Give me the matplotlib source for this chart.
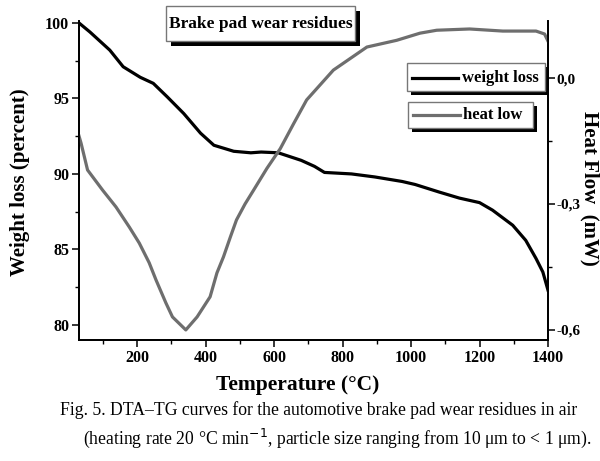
import matplotlib
matplotlib.use("Agg")
import matplotlib.pyplot as plt
from matplotlib.patches import Rectangle
from matplotlib.lines import Line2D
from matplotlib.ticker import MultipleLocator

# weight loss (TG) curve
temp_w = [30, 62, 120, 159, 209, 247, 288, 336, 385, 424, 482, 532, 562, 612,
          679, 718, 747, 826, 894, 974, 1012, 1082, 1141, 1200, 1238, 1297,
          1335, 1365, 1385, 1400]
weight = [100.0, 99.4, 98.2, 97.1, 96.4, 96.0, 95.1, 94.0, 92.7, 91.9, 91.5,
          91.4, 91.45, 91.4, 90.9, 90.5, 90.1, 90.0, 89.8, 89.5, 89.3, 88.8,
          88.4, 88.1, 87.6, 86.6, 85.6, 84.4, 83.5, 82.3]

# heat flow (DTA) curve
temp_h = [30, 36, 55, 99, 138, 177, 206, 235, 255, 284, 303, 342, 375, 413,
          433, 452, 472, 490, 515, 540, 579, 618, 656, 695, 773, 871, 958,
          1026, 1075, 1171, 1268, 1365, 1390, 1400]
heat = [-0.138, -0.155, -0.219, -0.267, -0.307, -0.355, -0.393, -0.44,
        -0.481, -0.536, -0.569, -0.60, -0.569, -0.521, -0.464, -0.426,
        -0.379, -0.338, -0.300, -0.267, -0.215, -0.168, -0.11, -0.052, 0.019,
        0.074, 0.09, 0.107, 0.114, 0.117, 0.112, 0.112, 0.105, 0.088]

x_ticks = [200, 400, 600, 800, 1000, 1200, 1400]
left_ticks = [80, 85, 90, 95, 100]
right_ticks = [0.0, -0.3, -0.6]
right_labels = ['0,0', '-0,3', '-0,6']

W, H = 600, 461
serif = ['Liberation Serif', 'DejaVu Serif']
plt.rcParams['font.family'] = serif


def fx(px):
    return px / W


def fy(py):
    return 1 - py / H


fig = plt.figure(figsize=(6, 4.61), dpi=100)
ax = fig.add_axes([fx(79), fy(340), fx(548) - fx(79), fy(21) - fy(340)])
ax2 = ax.twinx()

ax.plot(temp_w, weight, color='black', lw=2.3, zorder=3)
ax2.plot(temp_h, heat, color='#6e6e6e', lw=2.3)

ax.set_xlim(30, 1400)
ax.set_ylim(79.0, 100.13)
ax2.set_ylim(-0.624, 0.136)

ax.set_xticks(x_ticks)
ax.xaxis.set_minor_locator(MultipleLocator(100))
ax.set_yticks(left_ticks)
ax.yaxis.set_minor_locator(MultipleLocator(2.5))
ax2.set_yticks(right_ticks, labels=right_labels)
ax2.yaxis.set_minor_locator(MultipleLocator(0.15))

for a in (ax, ax2):
    a.spines['top'].set_visible(False)
    for s in a.spines.values():
        s.set_linewidth(1.3)
    a.tick_params(which='major', direction='out', length=5, width=1.1,
                  labelsize=11.5, pad=2)
    a.tick_params(which='minor', direction='out', length=3, width=1.0)
    for lab in a.get_xticklabels() + a.get_yticklabels():
        lab.set_fontweight('bold')
ax2.tick_params(which='major', pad=1, labelsize=11)

fig.text(fx(298), fy(385), 'Temperature (°C)', ha='center', va='center',
         fontsize=15.5, fontweight='bold')
fig.text(fx(20), fy(182), 'Weight loss (percent)', rotation=90, ha='center',
         va='center', fontsize=15, fontweight='bold')
fig.text(fx(590), fy(188), 'Heat Flow  (mW)', rotation=-90, ha='center',
         va='center', fontsize=15, fontweight='bold')


def shadow_box(x0, y0, x1, y1, off=5):
    # black drop shadow, then the white box with a grey edge
    fig.patches.append(Rectangle((fx(x0 + off), fy(y1 + off)),
                                 fx(x1 - x0), fy(y0) - fy(y1),
                                 transform=fig.transFigure, facecolor='black',
                                 edgecolor='none', zorder=5))
    fig.patches.append(Rectangle((fx(x0), fy(y1)), fx(x1 - x0), fy(y0) - fy(y1),
                                 transform=fig.transFigure, facecolor='white',
                                 edgecolor='#777777', lw=1.0, zorder=6))


# title box
shadow_box(166, 6, 355, 41)
fig.text(fx(261), fy(24), 'Brake pad wear residues', ha='center', va='center',
         fontsize=12.5, fontweight='bold', zorder=7)

# legend boxes
shadow_box(407, 63, 545, 91, off=4)
fig.lines.append(Line2D([fx(412), fx(458)], [fy(78), fy(78)],
                        transform=fig.transFigure, color='black', lw=2.3,
                        zorder=7))
fig.text(fx(462), fy(78), 'weight loss', ha='left', va='center', fontsize=12,
         fontweight='bold', zorder=7)

shadow_box(408, 102, 533, 128, off=4)
fig.lines.append(Line2D([fx(413), fx(460)], [fy(115), fy(115)],
                        transform=fig.transFigure, color='#6e6e6e', lw=2.3,
                        zorder=7))
fig.text(fx(463), fy(115), 'heat low', ha='left', va='center', fontsize=12,
         fontweight='bold', zorder=7)

# caption
fig.text(fx(319), fy(410), 'Fig. 5. DTA–TG curves for the automotive brake pad wear residues in air',
         ha='center', va='center', fontsize=12.7)
fig.text(fx(337), fy(438), '(heating rate 20 °C min$^{-1}$, particle size ranging from 10 μm to < 1 μm).',
         ha='center', va='center', fontsize=12.7)

fig.savefig('out.png', dpi=100)
